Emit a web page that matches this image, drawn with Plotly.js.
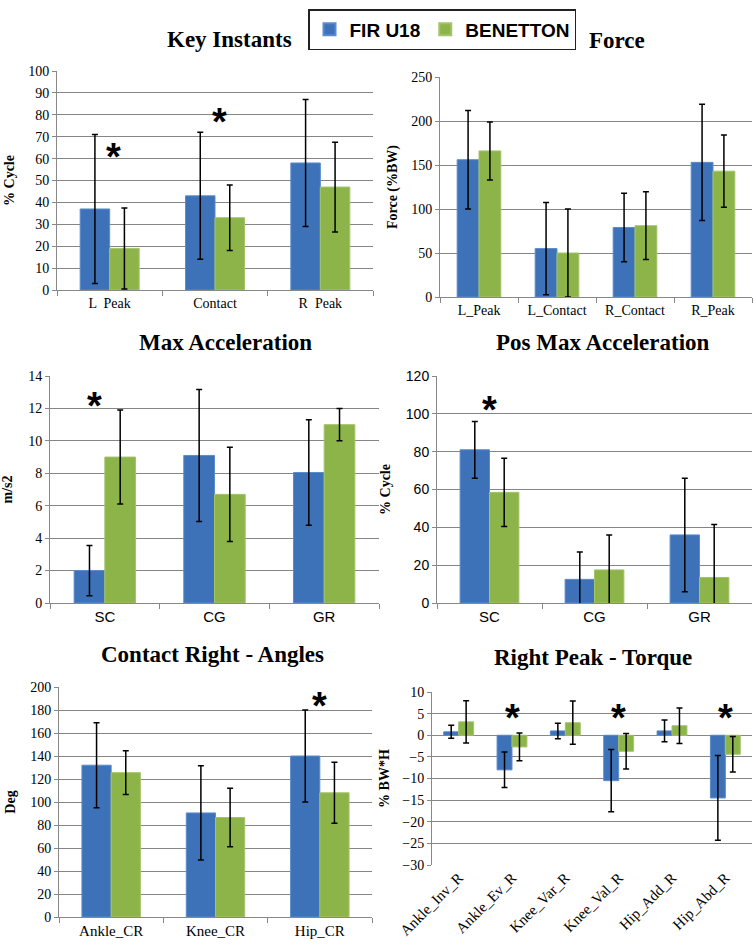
<!DOCTYPE html>
<html>
<head>
<meta charset="utf-8">
<script src="https://cdn.plot.ly/plotly-3.0.1.min.js"></script>
<style>html,body{margin:0;padding:0;background:#fff;}#chart{width:753px;height:947px;}</style>
</head>
<body>
<div id="chart"></div>
<script>
// ---- Data ----
const seriesNames = ["FIR U18", "BENETTON"];

const keyCats = ["L  Peak", "Contact", "R  Peak"];
const keyFir = [37, 43, 58];
const keyFirErr = [34, 29, 29];
const keyBen = [19, 33, 47];
const keyBenErr = [18.5, 15, 20.5];

const forceCats = ["L_Peak", "L_Contact", "R_Contact", "R_Peak"];
const forceFir = [156, 55, 79, 153];
const forceFirErr = [56, 52.5, 39, 66];
const forceBen = [166, 50, 81, 143];
const forceBenErr = [33, 50, 38.5, 41];

const accCats = ["SC", "CG", "GR"];
const accFir = [2, 9.1, 8.05];
const accFirErr = [1.55, 4.07, 3.25];
const accBen = [9, 6.7, 11];
const accBenErr = [2.9, 2.9, 1];

const posCats = ["SC", "CG", "GR"];
const posFir = [81, 12.5, 36];
const posFirErr = [15, 14.5, 30];
const posBen = [58.5, 17.5, 13.5];
const posBenErr = [18, 18.5, 28];

const angCats = ["Ankle_CR", "Knee_CR", "Hip_CR"];
const angFir = [132, 90.5, 140];
const angFirErr = [37, 41, 40];
const angBen = [125.5, 86.5, 108];
const angBenErr = [19, 25.5, 26.5];

const torCats = ["Ankle_Inv_R", "Ankle_Ev_R", "Knee_Var_R", "Knee_Val_R", "Hip_Add_R", "Hip_Abd_R"];
const torFir = [0.8, -8, 1, -10.5, 1, -14.5];
const torFirErr = [1.5, 4.1, 1.8, 7.2, 2.5, 9.8];
const torBen = [3.1, -2.7, 2.9, -3.7, 2.2, -4.4];
const torBenErr = [4.9, 3.2, 5, 4.1, 4.1, 4.1];

// significance markers: [category, y value]
const keyStars = [["L  Peak", 65], ["Contact", 81]];
const accStars = [["SC", 12.7]];
const posStars = [["SC", 107]];
const angStars = [["Hip_CR", 191]];
const torStars = [["Ankle_Ev_R", 6], ["Knee_Val_R", 6], ["Hip_Abd_R", 6]];

// ---- Styling ----
const BLUE = "#3d72b8", GREEN = "#8db449";
const W = 753, H = 947;
const SERIF = "Liberation Serif, Times New Roman, serif";
const SANS = "Liberation Sans, Arial, sans-serif";

function errObj(arr) {
  return {type: "data", array: arr, visible: true, color: "#000", thickness: 1.5, width: 3};
}
const traces = [];
function addPanel(idx, cats, fir, firErr, ben, benErr) {
  const xa = idx === 1 ? "x" : "x" + idx, ya = idx === 1 ? "y" : "y" + idx;
  traces.push({type: "bar", name: seriesNames[0], x: cats, y: fir, error_y: errObj(firErr),
    xaxis: xa, yaxis: ya, marker: {color: BLUE, line: {color: "#5a8bcc", width: 1}},
    showlegend: idx === 1, legendgroup: "a", hoverinfo: "skip"});
  traces.push({type: "bar", name: seriesNames[1], x: cats, y: ben, error_y: errObj(benErr),
    xaxis: xa, yaxis: ya, marker: {color: GREEN, line: {color: "#a3c46a", width: 1}},
    showlegend: idx === 1, legendgroup: "b", hoverinfo: "skip"});
}
addPanel(1, keyCats, keyFir, keyFirErr, keyBen, keyBenErr);
addPanel(2, forceCats, forceFir, forceFirErr, forceBen, forceBenErr);
addPanel(3, accCats, accFir, accFirErr, accBen, accBenErr);
addPanel(4, posCats, posFir, posFirErr, posBen, posBenErr);
addPanel(5, angCats, angFir, angFirErr, angBen, angBenErr);
addPanel(6, torCats, torFir, torFirErr, torBen, torBenErr);

// pixel boxes [x0, x1, ytop, ybottom]
const boxes = {
  1: [57, 373, 71, 290],
  2: [440, 752, 77, 297],
  3: [50, 379, 376, 603],
  4: [437, 752, 376, 603],
  5: [59, 372, 687, 917],
  6: [432, 752, 692, 865]
};
function dom(i) {
  const b = boxes[i];
  return {x: [b[0] / W, b[1] / W], y: [1 - b[3] / H, 1 - b[2] / H]};
}

function xaxis(i, fontFam, fontSize, extra) {
  const d = dom(i);
  return Object.assign({
    domain: d.x, anchor: i === 1 ? "y" : "y" + i, type: "category",
    showline: true, linecolor: "#888", linewidth: 1,
    ticks: "outside", tickson: "boundaries", ticklen: 5, tickcolor: "#888",
    showgrid: false, fixedrange: true,
    tickfont: {family: fontFam, size: fontSize, color: "#000"}
  }, extra || {});
}
function yaxis(i, range, dtick, title, tickFam, titleStandoff, extra) {
  const d = dom(i);
  return Object.assign({
    domain: d.y, anchor: i === 1 ? "x" : "x" + i, range: range, dtick: dtick,
    showline: true, linecolor: "#888", linewidth: 1,
    ticks: "outside", ticklen: 4, tickcolor: "#888",
    showgrid: true, gridcolor: "#858585", gridwidth: 1, zeroline: false,
    fixedrange: true,
    tickfont: {family: tickFam, size: 14, color: "#000"},
    title: {text: title, font: {family: SERIF, size: 14, color: "#000", weight: "bold"}, standoff: titleStandoff}
  }, extra || {});
}

const layout = {
  width: W, height: H,
  margin: {l: 0, r: 0, t: 0, b: 0},
  paper_bgcolor: "#fff", plot_bgcolor: "#fff",
  barmode: "group", bargap: 0.44, bargroupgap: 0,
  showlegend: true,
  legend: {orientation: "h", x: 0.587, xanchor: "center", y: 1 - 9 / H, yanchor: "top",
    bordercolor: "#222", borderwidth: 1.5, bgcolor: "#fff",
    font: {family: SANS, size: 19, color: "#000", weight: "bold"},
    itemsizing: "constant", itemwidth: 30, traceorder: "normal"},
  xaxis: xaxis(1, SERIF, 14),
  yaxis: yaxis(1, [0, 100], 10, "% Cycle", SERIF, 10),
  xaxis2: xaxis(2, SERIF, 14),
  yaxis2: yaxis(2, [0, 250], 50, "Force (%BW)", SERIF, 10),
  xaxis3: xaxis(3, SANS, 15),
  yaxis3: yaxis(3, [0, 14], 2, "m/s2", SERIF, 14),
  xaxis4: xaxis(4, SANS, 15),
  yaxis4: yaxis(4, [0, 120], 20, "% Cycle", SANS, 11),
  xaxis5: xaxis(5, SERIF, 15),
  yaxis5: yaxis(5, [0, 200], 20, "Deg", SERIF, 11),
  xaxis6: xaxis(6, SERIF, 15, {showline: false, tickangle: -45, ticks: ""}),
  yaxis6: yaxis(6, [-30, 10], 5, "% BW*H", SERIF, 9, {zeroline: true, zerolinecolor: "#888", zerolinewidth: 1.5}),
  annotations: [],
  shapes: []
};

// panel titles
const titles = [
  ["Key Instants", 229, 39],
  ["Force", 617, 41],
  ["Max Acceleration", 225, 342],
  ["Pos Max Acceleration", 603, 343],
  ["Contact Right - Angles", 212, 654],
  ["Right Peak - Torque", 593, 657]
];
titles.forEach(t => layout.annotations.push({
  text: t[0], xref: "paper", yref: "paper", x: t[1] / W, y: 1 - t[2] / H,
  xanchor: "center", yanchor: "middle", showarrow: false,
  font: {family: SERIF, size: 23, color: "#000", weight: "bold"}
}));

function addStars(i, stars, xshift) {
  const xr = i === 1 ? "x" : "x" + i, yr = i === 1 ? "y" : "y" + i;
  stars.forEach(s => layout.annotations.push({
    text: "*", xref: xr, yref: yr, x: s[0], y: s[1], xshift: xshift || 0, yshift: -9,
    showarrow: false, xanchor: "center", yanchor: "middle",
    font: {family: SANS, size: 38, color: "#000", weight: "bold"}
  }));
}
addStars(1, keyStars, 4);
addStars(3, accStars, -10);
addStars(4, posStars, 0);
addStars(5, angStars, 0);
addStars(6, torStars, 0);

Plotly.newPlot("chart", traces, layout, {displayModeBar: false, staticPlot: true});
</script>
</body>
</html>
